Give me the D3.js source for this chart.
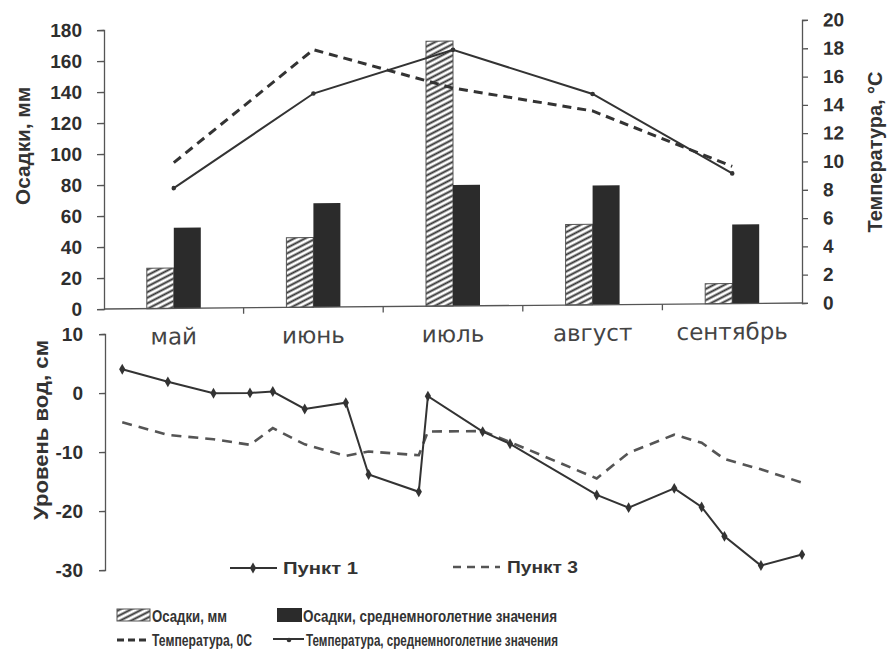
<!DOCTYPE html>
<html>
<head>
<meta charset="utf-8">
<script src="https://cdn.jsdelivr.net/npm/d3@7"></script>
<style>
  html, body { margin: 0; padding: 0; background: #fff; }
  svg { display: block; }
  .tick text { font-family: "Liberation Sans", Arial, sans-serif; font-weight: bold; fill: #2e2e2e; }
  .tick line, .domain { stroke: #555; stroke-width: 1.3; }
</style>
</head>
<body>
<svg id="chart" width="888" height="657"></svg>
<script>
// Monthly precipitation and air temperature
const months = ["май", "июнь", "июль", "август", "сентябрь"];
const precip = [26, 45, 171, 52, 13];          // Осадки, мм
const precipNorm = [52, 67, 78, 77, 51];       // Осадки, среднемноголетние
const temp = [10.3, 18.2, 15.4, 13.7, 9.7];     // Температура
const tempNorm = [8.5, 15.1, 18.1, 14.9, 9.2];  // Температура, среднемноголетние
const precipTicks = [0, 20, 40, 60, 80, 100, 120, 140, 160, 180];
const tempTicks = [0, 2, 4, 6, 8, 10, 12, 14, 16, 18, 20];

// Water level (days counted from 1 May)
const levelDays = [4, 14, 24, 32, 37, 44, 53, 58, 69, 71, 83, 89, 108, 115, 125, 131, 136, 144, 153];
const level1 = [4, 1.8, -0.2, -0.2, 0, -3, -2, -14.2, -17.2, -1, -7.1, -9.2, -18, -20.2, -17, -20.2, -25.2, -30.2, -28.4];
const level3 = [-5, -7.2, -8, -9, -6.2, -9, -11, -10.3, -11, -7, -7, -8.9, -15.2, -10.9, -7.9, -9.3, -12.1, -13.9, -16.2];
const levelTicks = [10, 0, -10, -20, -30];
const seasonDays = 153;

const svg = d3.select("#chart");
const ink = "#2b2b2b";
const lf = "'Liberation Sans', Arial, sans-serif";

// hatch pattern for the precipitation bars
const defs = svg.append("defs");
defs.append("pattern")
  .attr("id", "hatch")
  .attr("patternUnits", "userSpaceOnUse")
  .attr("width", 8).attr("height", 5)
  .attr("patternTransform", "rotate(-27)")
  .append("line")
  .attr("x1", 0).attr("y1", 2.5).attr("x2", 8).attr("y2", 2.5)
  .attr("stroke", "#333").attr("stroke-width", 2);

const left = 104, right = 802;
const tilt = Math.atan(-6 / 698) * 180 / Math.PI;

// ---------- upper chart ----------
const upper = svg.append("g")
  .attr("transform", `translate(${left},0) skewY(${tilt}) translate(${-left},0)`);

const x = d3.scaleBand().domain(months).range([left, right]);
const xSub = d3.scaleBand().domain(["fact", "norm"]).range([0, x.bandwidth()]).paddingOuter(1.585);
const yP = d3.scaleLinear().domain([0, 180]).range([309, 30]);
const yT = d3.scaleLinear().domain([0, 20]).range([309, 26]);

const bars = upper.append("g");
bars.selectAll("rect.fact").data(months).join("rect")
  .attr("class", "fact")
  .attr("x", d => x(d) + xSub("fact"))
  .attr("width", xSub.bandwidth())
  .attr("y", (d, i) => yP(precip[i]))
  .attr("height", (d, i) => yP(0) - yP(precip[i]))
  .attr("fill", "url(#hatch)")
  .attr("stroke", "#555").attr("stroke-width", 1);
bars.selectAll("rect.norm").data(months).join("rect")
  .attr("class", "norm")
  .attr("x", d => x(d) + xSub("norm"))
  .attr("width", xSub.bandwidth())
  .attr("y", (d, i) => yP(precipNorm[i]))
  .attr("height", (d, i) => yP(0) - yP(precipNorm[i]))
  .attr("fill", ink);

const cx = d => x(d) + x.bandwidth() / 2;
const tempLine = d3.line().x(d => cx(d.m)).y(d => yT(d.v));
upper.append("path")
  .datum(months.map((m, i) => ({ m, v: temp[i] })))
  .attr("d", tempLine)
  .attr("fill", "none").attr("stroke", "#333")
  .attr("stroke-width", 3).attr("stroke-dasharray", "9,6");
upper.append("path")
  .datum(months.map((m, i) => ({ m, v: tempNorm[i] })))
  .attr("d", tempLine)
  .attr("fill", "none").attr("stroke", "#333").attr("stroke-width", 2);
upper.selectAll("circle.tn").data(months).join("circle")
  .attr("class", "tn")
  .attr("cx", cx).attr("cy", (d, i) => yT(tempNorm[i]))
  .attr("r", 2.3).attr("fill", "#333");

// axes
upper.append("g").attr("transform", `translate(${left},0)`)
  .call(d3.axisLeft(yP).tickValues(precipTicks).tickSize(7).tickPadding(15))
  .selectAll("text").attr("font-size", 19);
upper.append("g").attr("transform", `translate(${right},0)`)
  .call(d3.axisRight(yT).tickValues(tempTicks).tickSize(6).tickPadding(15))
  .selectAll("text").attr("font-size", 19);

const xAxis = upper.append("g");
xAxis.append("line")
  .attr("x1", left).attr("x2", right).attr("y1", yP(0)).attr("y2", yP(0))
  .attr("stroke", "#555").attr("stroke-width", 1.3);
xAxis.selectAll("line.tk").data(months.slice(1)).join("line")
  .attr("class", "tk")
  .attr("x1", d => x(d)).attr("x2", d => x(d))
  .attr("y1", yP(0)).attr("y2", yP(0) + 6)
  .attr("stroke", "#555").attr("stroke-width", 1.3);
xAxis.selectAll("text").data(months).join("text")
  .attr("x", cx).attr("y", 345)
  .attr("text-anchor", "middle")
  .attr("font-family", "'DejaVu Sans', Verdana, sans-serif")
  .attr("font-size", 23).attr("fill", "#444")
  .text(d => d);

// axis titles
function title(tx, ty, len, size, label) {
  svg.append("text")
    .attr("transform", `translate(${tx},${ty}) rotate(-90)`)
    .attr("text-anchor", "middle")
    .attr("font-family", lf).attr("font-weight", "bold")
    .attr("font-size", size).attr("fill", "#333")
    .attr("textLength", len).attr("lengthAdjust", "spacingAndGlyphs")
    .text(label);
}
title(30, 146, 118, 20, "Осадки, мм");
title(882, 152, 161, 20, "Температура, °С");

// ---------- lower chart: water level ----------
const lower = svg.append("g")
  .attr("transform", `translate(${left},0) skewY(${tilt}) translate(${-left},0)`);
const xd = d3.scaleLinear().domain([0, seasonDays]).range([left, right]);
const yL = d3.scaleLinear().domain([-30, 10]).range([570, 334]);

lower.append("g").attr("transform", `translate(${left + 1},0)`)
  .call(d3.axisLeft(yL).tickValues(levelTicks).tickSize(6).tickPadding(16).tickFormat(d => String(d)))
  .selectAll("text").attr("font-size", 19);

const lvl = d3.line().x(d => xd(d.t)).y(d => yL(d.v));
lower.append("path")
  .datum(levelDays.map((t, i) => ({ t, v: level3[i] })))
  .attr("d", lvl)
  .attr("fill", "none").attr("stroke", "#555")
  .attr("stroke-width", 2.6).attr("stroke-dasharray", "10,7");
lower.append("path")
  .datum(levelDays.map((t, i) => ({ t, v: level1[i] })))
  .attr("d", lvl)
  .attr("fill", "none").attr("stroke", "#333").attr("stroke-width", 2);
lower.selectAll("path.mk").data(levelDays).join("path")
  .attr("class", "mk")
  .attr("transform", (t, i) => `translate(${xd(t)},${yL(level1[i])})`)
  .attr("d", d3.symbol(d3.symbolDiamond, 34))
  .attr("fill", "#333");

title(48, 430, 180, 21, "Уровень вод, см");

// legend of the water level chart
const lg1 = svg.append("g");
lg1.append("line").attr("x1", 230).attr("x2", 277).attr("y1", 568).attr("y2", 568)
  .attr("stroke", "#333").attr("stroke-width", 2);
lg1.append("path").attr("transform", "translate(253,568)")
  .attr("d", d3.symbol(d3.symbolDiamond, 34)).attr("fill", "#333");
lg1.append("text").attr("x", 283).attr("y", 574)
  .attr("font-family", lf).attr("font-weight", "bold").attr("font-size", 17).attr("fill", "#333")
  .attr("textLength", 75).attr("lengthAdjust", "spacingAndGlyphs")
  .text("Пункт 1");
const lg3 = svg.append("g");
lg3.append("line").attr("x1", 453).attr("x2", 500).attr("y1", 567).attr("y2", 567)
  .attr("stroke", "#555").attr("stroke-width", 2.4).attr("stroke-dasharray", "8,6");
lg3.append("text").attr("x", 507).attr("y", 573)
  .attr("font-family", lf).attr("font-weight", "bold").attr("font-size", 17).attr("fill", "#333")
  .attr("textLength", 71).attr("lengthAdjust", "spacingAndGlyphs")
  .text("Пункт 3");

// legend of the upper chart
const leg = svg.append("g").attr("font-family", lf).attr("font-weight", "bold")
  .attr("font-size", 17).attr("fill", "#333");
leg.append("rect").attr("x", 117).attr("y", 609).attr("width", 33).attr("height", 12)
  .attr("fill", "url(#hatch)").attr("stroke", "#555").attr("stroke-width", 1);
leg.append("text").attr("x", 152).attr("y", 622)
  .attr("textLength", 75).attr("lengthAdjust", "spacingAndGlyphs").text("Осадки, мм");
leg.append("rect").attr("x", 277).attr("y", 608).attr("width", 25).attr("height", 14)
  .attr("fill", ink);
leg.append("text").attr("x", 303).attr("y", 622)
  .attr("textLength", 254).attr("lengthAdjust", "spacingAndGlyphs")
  .text("Осадки, среднемноголетние значения");
leg.append("line").attr("x1", 117).attr("x2", 147).attr("y1", 640).attr("y2", 640)
  .attr("stroke", "#333").attr("stroke-width", 3).attr("stroke-dasharray", "7,4");
leg.append("text").attr("x", 152).attr("y", 646)
  .attr("textLength", 100).attr("lengthAdjust", "spacingAndGlyphs").text("Температура, 0С");
leg.append("line").attr("x1", 273).attr("x2", 304).attr("y1", 639).attr("y2", 639)
  .attr("stroke", "#333").attr("stroke-width", 2);
leg.append("circle").attr("cx", 289).attr("cy", 640).attr("r", 2.3).attr("fill", "#333");
leg.append("text").attr("x", 306).attr("y", 646)
  .attr("textLength", 252).attr("lengthAdjust", "spacingAndGlyphs")
  .text("Температура, среднемноголетние значения");
</script>
</body>
</html>
